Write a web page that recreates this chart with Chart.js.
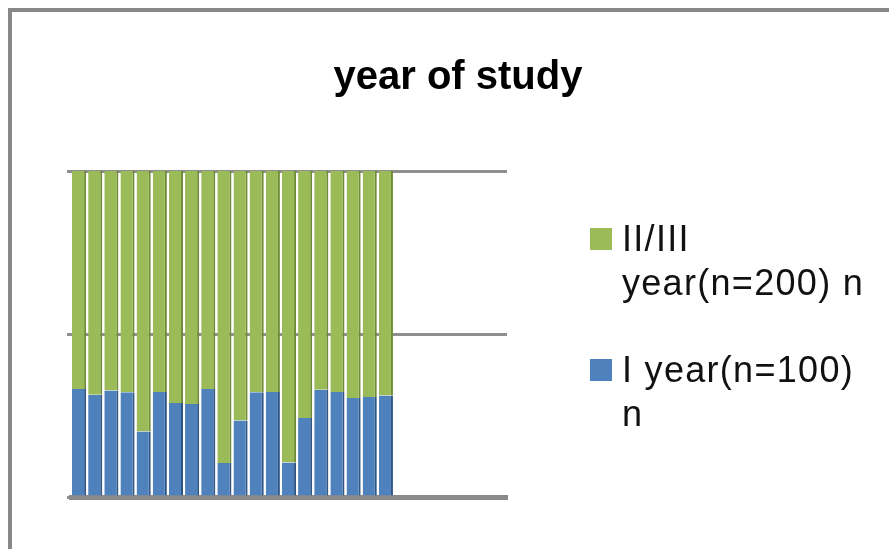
<!DOCTYPE html>
<html>
<head>
<meta charset="utf-8">
<script src="https://cdn.jsdelivr.net/npm/chart.js@4.4.1/dist/chart.umd.min.js"></script>
<style>
  html, body { margin: 0; padding: 0; background: #fff; }
  #wrap { position: relative; width: 889px; height: 549px; overflow: hidden; }
  #frame { position: absolute; left: 8px; top: 8px; width: 900px; height: 600px;
           border-top: 4px solid #878787; border-left: 4px solid #878787; box-sizing: border-box; }
  canvas { position: absolute; left: 0; top: 0; }
</style>
</head>
<body>
<div id="wrap">
  <div id="frame"></div>
  <canvas id="c" width="889" height="549"></canvas>
</div>
<script>
// ---- data ----
const titleText = 'year of study';
const categories = ['1','2','3','4','5','6','7','8','9','10','11','12','13','14','15','16','17','18','19','20','21','22','23','24','25','26','27'];
const firstYearLabel = ['I year(n=100)', 'n'];
const upperYearLabel = ['II/III', 'year(n=200) n'];
const firstYearPct = [33.1, 31.4, 32.7, 32.1, 20.1, 32.2, 28.8, 28.5, 33.1, 10.4, 23.5, 32.1, 32.2, 10.6, 24.2, 32.9, 32.2, 30.4, 30.7, 31.1, null, null, null, null, null, null, null];
const upperYearPct = [66.9, 68.6, 67.3, 67.9, 79.9, 67.8, 71.2, 71.5, 66.9, 89.6, 76.5, 67.9, 67.8, 89.4, 75.8, 67.1, 67.8, 69.6, 69.3, 68.9, null, null, null, null, null, null, null];
const yTicks = [0, 50, 100];

const titlePlugin = {
  id: 'customTitle',
  afterDraw(chart) {
    const ctx = chart.ctx;
    ctx.save();
    ctx.font = 'bold 40px "Liberation Sans", Arial, sans-serif';
    ctx.fillStyle = '#000';
    ctx.textAlign = 'center';
    ctx.textBaseline = 'alphabetic';
    ctx.fillText(titleText, 458, 89);
    ctx.restore();
  }
};

const legendPlugin = {
  id: 'wrapLegend',
  afterDraw(chart) {
    const ctx = chart.ctx;
    const ds = chart.data.datasets.slice().reverse();
    ctx.save();
    ctx.font = '36px "Liberation Sans", Arial, sans-serif';
    try { ctx.letterSpacing = '1.3px'; } catch (e) {}
    ctx.textBaseline = 'alphabetic';
    ctx.textAlign = 'left';
    let y = 251;
    const lineH = 44;
    ds.forEach((d) => {
      ctx.fillStyle = d.backgroundColor;
      ctx.fillRect(590, y - 23, 22, 22);
      ctx.fillStyle = '#111';
      d.label.forEach((line, i) => {
        ctx.fillText(line, 622, y + i * lineH);
      });
      y += d.label.length * lineH + 43;
    });
    ctx.restore();
  }
};

new Chart(document.getElementById('c'), {
  type: 'bar',
  data: {
    labels: categories,
    datasets: [
      { label: firstYearLabel, data: firstYearPct, backgroundColor: '#4F81BD',
        borderColor: '#2f5582', borderWidth: {left: 0, right: 2, top: 0, bottom: 0}, borderSkipped: false },
      { label: upperYearLabel, data: upperYearPct, backgroundColor: '#9BBB59',
        borderColor: '#6f8c35', borderWidth: {left: 0, right: 2, top: 0, bottom: 0}, borderSkipped: false }
    ]
  },
  options: {
    responsive: false,
    animation: false,
    layout: { padding: { left: 67, right: 382, top: 171, bottom: 52 } },
    datasets: { bar: { barPercentage: 0.875, categoryPercentage: 1.0 } },
    plugins: {
      legend: { display: false },
      title: { display: false },
      tooltip: { enabled: false }
    },
    scales: {
      x: {
        stacked: true,
        grid: { display: false, drawTicks: false },
        border: { display: true, color: '#8a8a8a', width: 5 },
        ticks: { display: false }
      },
      y: {
        stacked: true,
        min: 0, max: 100,
        afterBuildTicks(scale) { scale.ticks = yTicks.map(v => ({ value: v })); },
        grid: { color: '#8f8f8f', lineWidth: 3, drawTicks: true, tickLength: 4 },
        border: { display: false },
        ticks: { display: false }
      }
    }
  },
  plugins: [titlePlugin, legendPlugin]
});
</script>
</body>
</html>
